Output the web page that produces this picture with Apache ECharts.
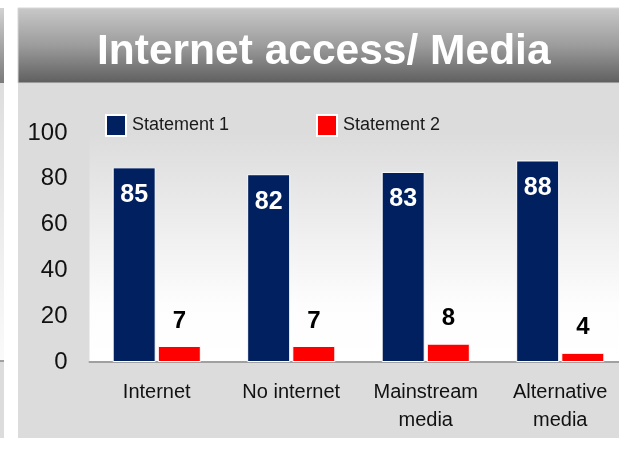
<!DOCTYPE html>
<html>
<head>
<meta charset="utf-8">
<script src="https://cdn.jsdelivr.net/npm/echarts@6/dist/echarts.min.js"></script>
<style>
html,body{margin:0;padding:0;background:#fff;}
#c{width:619px;height:455px;}
</style>
</head>
<body>
<div id="c"></div>
<script>
const titleText = 'Internet access/ Media';
const categories = ['Internet', 'No internet', 'Mainstream\nmedia', 'Alternative\nmedia'];
const seriesNames = ['Statement 1', 'Statement 2'];
const statement1 = [85, 82, 83, 88];
const statement2 = [7, 7, 8, 4];
const yMin = 0, yMax = 100, yInterval = 20;

const FONT = '"Liberation Sans", Arial, sans-serif';
const chart = echarts.init(document.getElementById('c'));

chart.setOption({
  backgroundColor: '#ffffff',
  animation: false,
  graphic: [
    { type: 'rect', z: -100, shape: { x: 0, y: 8, width: 4, height: 75 },
      style: { fill: new echarts.graphic.LinearGradient(0, 0, 0, 1, [{ offset: 0, color: '#d2d2d2' }, { offset: 1, color: '#7a7a7a' }]) } },
    { type: 'rect', z: -100, shape: { x: 0, y: 83, width: 4, height: 278 },
      style: { fill: new echarts.graphic.LinearGradient(0, 0, 0, 1, [{ offset: 0, color: '#dedede' }, { offset: 1, color: '#fafafa' }]) } },
    { type: 'rect', z: -100, shape: { x: 0, y: 361, width: 4, height: 77 }, style: { fill: '#dcdcdc' } },
    { type: 'rect', z: -99, shape: { x: 0, y: 360, width: 4, height: 2 }, style: { fill: '#a0a0a0' } },
    { type: 'rect', z: -100, shape: { x: 18, y: 83, width: 620, height: 355 }, style: { fill: '#dcdcdc' } },
    { type: 'rect', z: -100, shape: { x: 18, y: 8, width: 620, height: 75 },
      style: { fill: new echarts.graphic.LinearGradient(0, 0, 0, 1, [{ offset: 0, color: '#c9c9c9' }, { offset: 0.5, color: '#9c9c9c' }, { offset: 1, color: '#5e5e5e' }]),
        stroke: '#d6d6d6', lineWidth: 1 } }
  ],
  title: {
    text: titleText,
    left: 97,
    top: 31,
    padding: 0,
    textStyle: { color: '#ffffff', fontSize: 42.5, fontWeight: 'bold', fontFamily: FONT }
  },
  legend: [
    { data: [seriesNames[0]], left: 100, top: 109, itemWidth: 20, itemHeight: 21, icon: 'rect',
      itemStyle: { borderColor: '#ffffff', borderWidth: 2 },
      textStyle: { fontSize: 18, color: '#1a1a1a', fontFamily: FONT, padding: [0, 0, 0, 1] } },
    { data: [seriesNames[1]], left: 311, top: 109, itemWidth: 20, itemHeight: 21, icon: 'rect',
      itemStyle: { borderColor: '#ffffff', borderWidth: 2 },
      textStyle: { fontSize: 18, color: '#1a1a1a', fontFamily: FONT, padding: [0, 0, 0, 1] } }
  ],
  grid: {
    left: 89.5, width: 538, top: 133, bottom: 93,
    outerBoundsMode: 'none',
    containLabel: false,
    show: true, borderWidth: 0,
    backgroundColor: new echarts.graphic.LinearGradient(0, 0, 0, 1, [
      { offset: 0, color: '#dcdcdc' }, { offset: 0.75, color: '#fdfdfd' }, { offset: 1, color: '#ffffff' }])
  },
  xAxis: {
    type: 'category',
    data: categories,
    axisLine: { show: true, lineStyle: { color: '#a0a0a0', width: 2 } },
    axisTick: { show: false },
    axisLabel: { fontSize: 20, color: '#111111', fontFamily: FONT, margin: 16, lineHeight: 28, interval: 0 }
  },
  yAxis: {
    type: 'value',
    min: yMin, max: yMax, interval: yInterval,
    axisLine: { show: false },
    axisTick: { show: false },
    splitLine: { show: false },
    axisLabel: { fontSize: 24, color: '#111111', fontFamily: FONT, margin: 22 }
  },
  series: [
    { name: seriesNames[0], type: 'bar', data: statement1, barWidth: 43, barGap: '5%',
      itemStyle: { color: '#002060', borderColor: '#ffffff', borderWidth: 1 },
      label: { show: true, position: 'insideTop', distance: 15, color: '#ffffff', fontSize: 25, fontWeight: 'bold', fontFamily: FONT } },
    { name: seriesNames[1], type: 'bar', data: statement2, barWidth: 43,
      itemStyle: { color: '#ff0000', borderColor: '#ffffff', borderWidth: 1 },
      label: { show: true, position: 'top', distance: 13, color: '#000000', fontSize: 24, fontWeight: 'bold', fontFamily: FONT } }
  ]
});
</script>
</body>
</html>
